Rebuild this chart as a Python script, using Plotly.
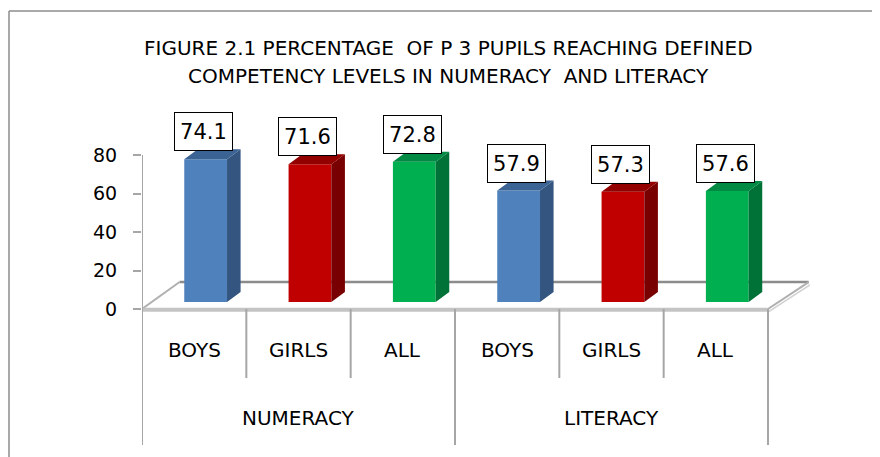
import plotly.graph_objects as go

# ---------------- data ----------------
groups = ["NUMERACY", "LITERACY"]
subgroups = ["BOYS", "GIRLS", "ALL"]
numeracy = [74.1, 71.6, 72.8]
literacy = [57.9, 57.3, 57.6]
y_ticks = [0, 20, 40, 60, 80]
title_lines = ["FIGURE 2.1 PERCENTAGE  OF P 3 PUPILS REACHING DEFINED",
               "COMPETENCY LEVELS IN NUMERACY  AND LITERACY"]

front_colors = {"BOYS": "#4F81BD", "GIRLS": "#C00000", "ALL": "#00B050"}
side_colors = {"BOYS": "#34557F", "GIRLS": "#780000", "ALL": "#007238"}
top_colors = {"BOYS": "#3B6394", "GIRLS": "#930000", "ALL": "#008A43"}

FONT = "DejaVu Sans"

# ---------------- geometry (reference-window pixels) ----------------
OFF = 8                  # page body margin
W, H = 880 - OFF, 457 - OFF
L, R_px = 142, 810
T, B_px = 100, 450
unit_x = 104.33          # pixels per category
unit_y = 1.925           # pixels per percentage point
zero_px = 309
x_range = [0, (R_px - L) / unit_x]
y_range = [(zero_px - B_px) / unit_y, (zero_px - T) / unit_y]


def px_x(p):
    return (p - L) / unit_x


def px_y(p):
    return (zero_px - p) / unit_y


def paper_x(p):
    return (p - L) / (R_px - L)


def paper_y(p):
    return (B_px - p) / (B_px - T)


bar_base = 3.64
bar_w = 0.41
bar_off = 0.11
depth_dx = 0.13
depth_dy = 5.2
floor_dx = 0.36
floor_dy = 14

values = {"NUMERACY": numeracy, "LITERACY": literacy}
n_cat = len(groups) * len(subgroups)

fig = go.Figure()

# ---------------- bars (front faces, sides, tops) ----------------
for s_idx, sub in enumerate(subgroups):
    xs, ys = [], []
    side_x, side_y, top_x, top_y = [], [], [], []
    for g_idx, grp in enumerate(groups):
        v = values[grp][s_idx]
        i = g_idx * len(subgroups) + s_idx
        xc = i + 0.5 + bar_off
        xs.append(xc)
        ys.append(v)
        xl, xr = xc - bar_w / 2, xc + bar_w / 2
        top = bar_base + v
        side_x += [xr, xr + depth_dx, xr + depth_dx, xr, xr, None]
        side_y += [bar_base, bar_base + depth_dy, top + depth_dy, top, bar_base, None]
        top_x += [xl, xr, xr + depth_dx, xl + depth_dx, xl, None]
        top_y += [top, top, top + depth_dy, top + depth_dy, top, None]
    fig.add_trace(go.Scatter(x=side_x, y=side_y, mode="lines", fill="toself",
                             fillcolor=side_colors[sub], line=dict(width=0),
                             hoverinfo="skip", showlegend=False))
    fig.add_trace(go.Scatter(x=top_x, y=top_y, mode="lines", fill="toself",
                             fillcolor=top_colors[sub], line=dict(width=0),
                             hoverinfo="skip", showlegend=False))
    fig.add_trace(go.Bar(x=xs, y=ys, base=bar_base, width=bar_w,
                         marker=dict(color=front_colors[sub], line=dict(width=0)),
                         name=sub, showlegend=False))

# ---------------- value labels ----------------
annotations = []
for g_idx, grp in enumerate(groups):
    for s_idx, sub in enumerate(subgroups):
        v = values[grp][s_idx]
        i = g_idx * len(subgroups) + s_idx
        annotations.append(dict(
            x=i + 0.5 + bar_off - 0.02, y=bar_base + v, xref="x", yref="y",
            text=f"{v:.1f}", showarrow=False, yanchor="bottom", yshift=8,
            font=dict(family=FONT, size=21, color="black"),
            bordercolor="black", borderwidth=1, borderpad=0,
            bgcolor="white", width=57, height=37))

# ---------------- category labels ----------------
for g_idx, grp in enumerate(groups):
    for s_idx, sub in enumerate(subgroups):
        i = g_idx * len(subgroups) + s_idx
        annotations.append(dict(x=i + 0.5, y=px_y(350), xref="x", yref="y",
                                text=sub, showarrow=False,
                                font=dict(family=FONT, size=20, color="black")))
    annotations.append(dict(x=g_idx * len(subgroups) + len(subgroups) / 2,
                            y=px_y(418), xref="x", yref="y", text=grp,
                            showarrow=False,
                            font=dict(family=FONT, size=20, color="black")))

# ---------------- title ----------------
for k, line in enumerate(title_lines):
    annotations.append(dict(x=paper_x(448), y=paper_y(48 + 28 * k),
                            xref="paper", yref="paper",
                            xanchor="center", yanchor="middle",
                            text=line, showarrow=False,
                            font=dict(family=FONT, size=20, color="black")))

# ---------------- floor, axis lines, dividers ----------------
grey = "#A6A6A6"
shapes = [
    # floor back line
    dict(type="line", xref="x", yref="y", x0=floor_dx, y0=floor_dy,
         x1=n_cat + floor_dx + 0.03, y1=floor_dy, line=dict(color="#8C8C8C", width=2.5),
         layer="below"),
    # floor left diagonal
    dict(type="line", xref="x", yref="y", x0=0, y0=0, x1=floor_dx, y1=floor_dy,
         line=dict(color="#B0B0B0", width=2), layer="below"),
    # floor right diagonal (with thickness)
    dict(type="line", xref="x", yref="y", x0=n_cat, y0=0,
         x1=n_cat + floor_dx + 0.03, y1=floor_dy, line=dict(color="#B0B0B0", width=2),
         layer="below"),
    dict(type="line", xref="x", yref="y", x0=n_cat, y0=-1.6,
         x1=n_cat + floor_dx + 0.05, y1=floor_dy - 1.2,
         line=dict(color="#D0D0D0", width=1.5), layer="below"),
    # floor front edge
    dict(type="line", xref="x", yref="y", x0=0, y0=-0.4, x1=n_cat, y1=-0.4,
         line=dict(color="#C4C4C4", width=4), layer="below"),
    # value axis line
    dict(type="line", xref="x", yref="y", x0=0, y0=0, x1=0, y1=y_ticks[-1],
         line=dict(color=grey, width=2), layer="below"),
    # outer frame (left and top)
    dict(type="line", xref="paper", yref="paper", x0=paper_x(9), y0=paper_y(11),
         x1=paper_x(9), y1=paper_y(470), line=dict(color="#8C8C8C", width=1.5)),
    dict(type="line", xref="paper", yref="paper", x0=paper_x(9), y0=paper_y(11),
         x1=paper_x(900), y1=paper_y(11), line=dict(color="#8C8C8C", width=1.5)),
]
for c in range(n_cat + 1):
    long_line = c % len(subgroups) == 0
    shapes.append(dict(type="line", xref="x", yref="y", x0=c, x1=c, y0=0,
                       y1=px_y(445) if long_line else px_y(378),
                       line=dict(color=grey, width=2), layer="below"))

fig.update_layout(
    width=W, height=H,
    margin=dict(l=L - OFF, r=(880 - R_px), t=T - OFF, b=(457 - B_px)),
    paper_bgcolor="white", plot_bgcolor="white",
    showlegend=False, barmode="overlay",
    xaxis=dict(visible=False, range=x_range, fixedrange=True),
    yaxis=dict(range=y_range, tickvals=y_ticks, ticktext=[str(t) for t in y_ticks],
               ticks="outside", ticklen=8, tickwidth=2, tickcolor=grey,
               showgrid=False, zeroline=False, showline=False,
               ticklabelstandoff=12,
               tickfont=dict(family=FONT, size=19, color="black"),
               fixedrange=True),
    annotations=annotations,
    shapes=shapes,
)

fig.write_html("out.html")
